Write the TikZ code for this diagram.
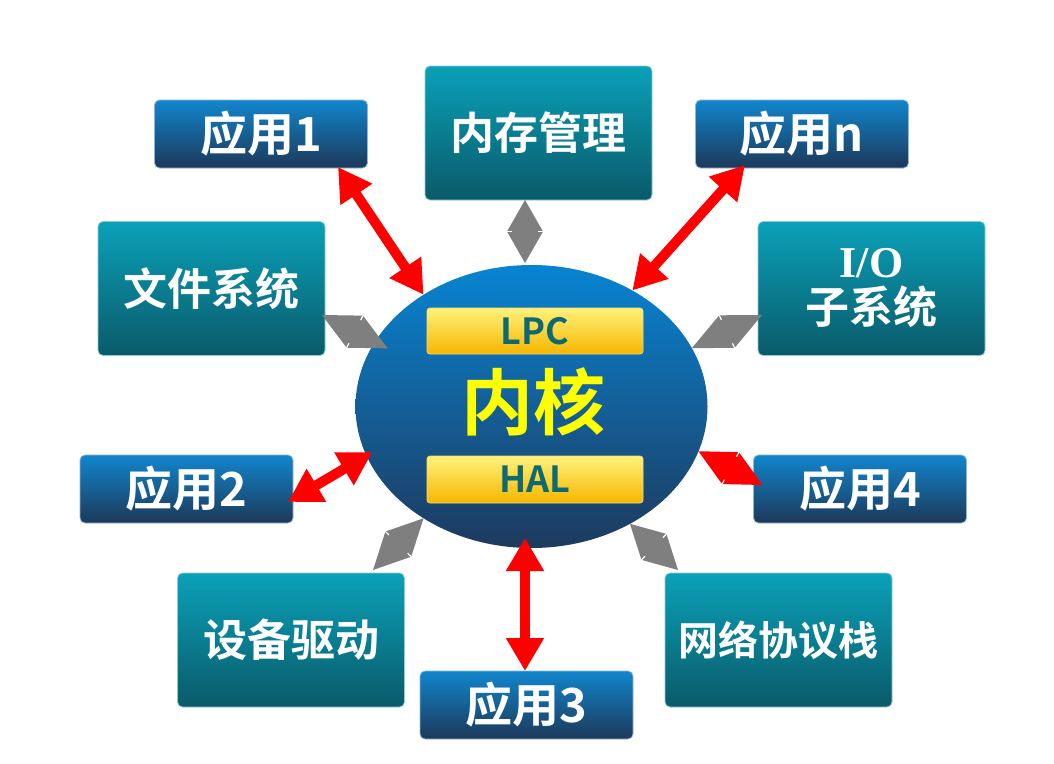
\documentclass[tikz,border=0pt]{standalone}
\usepackage{fontspec}
\usetikzlibrary{arrows.meta,calc,shapes.geometric}
\newfontfamily\cjk{Noto Sans CJK SC}[BoldFont={Noto Sans CJK SC Bold}]
\newfontfamily\serifb{Liberation Serif}

\definecolor{tealtop}{HTML}{0AA1B9}
\definecolor{tealmid}{HTML}{0A7C8F}
\definecolor{tealbot}{HTML}{0A5A69}
\definecolor{tealedge}{HTML}{8FCBD3}
\definecolor{bluetop}{HTML}{1186CD}
\definecolor{bluemid}{HTML}{1F4A78}
\definecolor{bluebot}{HTML}{1C3859}
\definecolor{blueedge}{HTML}{8FB6D6}
\definecolor{coretop}{HTML}{0884D2}
\definecolor{coremid}{HTML}{1A5E9C}
\definecolor{corebot}{HTML}{1E3A5E}
\definecolor{goldtop}{HTML}{FFF27A}
\definecolor{goldmid}{HTML}{FCC512}
\definecolor{goldbot}{HTML}{F6B600}
\definecolor{goldedge}{HTML}{F8DC6A}
\definecolor{bartext}{HTML}{0E6A72}
\definecolor{coretext}{HTML}{FFFF00}
\definecolor{arrowred}{HTML}{FF0000}
\definecolor{arrowgray}{HTML}{7F7F7F}

% filled double head: two triangles base to base between #2 and #3, half width #4
\newcommand\dhead[4][arrowgray]{%
  \fill[#1] (#2) -- ($(#2)!0.5!(#3)!#4!90:(#3)$) -- (#3)
            -- ($(#2)!0.5!(#3)!#4!-90:(#3)$) -- cycle;
  \draw[white, line width=1.2pt]
    ($(#2)!0.5!(#3)!#4!90:(#3)$) -- ($(#2)!0.5!(#3)!0.72*#4!90:(#3)$)
    ($(#2)!0.5!(#3)!#4!-90:(#3)$) -- ($(#2)!0.5!(#3)!0.72*#4!-90:(#3)$);
}

\tikzset{
  tealbox/.style={rectangle, rounded corners=5pt, minimum width=227pt,
    minimum height=134pt, inner sep=0pt, outer sep=0pt,
    top color=tealtop, middle color=tealmid, bottom color=tealbot,
    draw=tealedge, line width=0.8pt, text=white, align=center,
    font=\cjk\bfseries\fontsize{44}{50}\selectfont},
  appbox/.style={rectangle, rounded corners=5pt, minimum width=213pt,
    minimum height=68pt, inner sep=0pt, outer sep=0pt,
    top color=bluetop, middle color=bluemid, bottom color=bluebot,
    draw=blueedge, line width=0.8pt, text=white,
    font=\cjk\bfseries\fontsize{47}{50}\selectfont},
  goldbar/.style={rectangle, rounded corners=3pt, minimum width=216pt,
    minimum height=46pt, inner sep=0pt, outer sep=0pt,
    top color=goldtop, middle color=goldmid, bottom color=goldbot,
    draw=goldedge, line width=0.8pt, text=bartext,
    font=\cjk\bfseries\fontsize{36}{40}\selectfont},
  redarrow/.style={draw=arrowred, line width=10pt,
    {Triangle[length=33pt,width=36pt]}-{Triangle[length=33pt,width=36pt]}},
}

\begin{document}
\begin{tikzpicture}[x=1pt,y=-1pt]
  \useasboundingbox[fill=white] (0,0) rectangle (1054,763);

  % kernel
  \node[ellipse, minimum width=352pt, minimum height=283pt, inner sep=0pt,
        outer sep=0pt, top color=coretop, middle color=coremid,
        bottom color=corebot] (kernel) at (531.5,406.5) {};
  \node[goldbar] (lpc) at (535,331) {LPC};
  \node[goldbar, minimum height=47pt] (hal) at (535,479.5) {HAL};
  \node[text=coretext, font=\cjk\bfseries\fontsize{72}{80}\selectfont]
        (core) at (533,402) {内核};

  % subsystems
  \node[tealbox] (mem)  at (538.5,133)  {内存管理};
  \node[tealbox] (file) at (211.5,288.5) {文件系统};
  \node[tealbox] (io)   at (871.5,288.5)
        {{\serifb\bfseries I/O}\\[-4pt]子系统};
  \node[tealbox] (dev)  at (291,640)    {设备驱动};
  \node[tealbox, font=\cjk\bfseries\fontsize{40}{46}\selectfont]
        (net)  at (778.5,640)  {网络协议栈};

  % applications
  \node[appbox] (app1) at (261,134)   {应用1};
  \node[appbox] (appn) at (802,134)   {应用n};
  \node[appbox] (app2) at (186.5,489) {应用2};
  \node[appbox] (app4) at (860,489)   {应用4};
  \node[appbox] (app3) at (526.5,705) {应用3};

  % red links between applications and the kernel
  \draw[redarrow] ([xshift=77pt,yshift=1pt]app1.south) -- (kernel.134);
  \draw[redarrow] ([xshift=-57pt,yshift=3pt]appn.south) -- (kernel.49);
  \draw[redarrow] ([xshift=-5pt,yshift=-13pt]app2.east)
                  -- ($(kernel.center)!0.96!(kernel.196)$);
  \draw[redarrow] ($(kernel.south -| app3.north)+(-1.5,-10)$)
                  -- ([xshift=-1.5pt]app3.north);
  \coordinate (k4) at (kernel.345);
  \coordinate (a4) at ([xshift=9pt,yshift=4pt]app4.west);
  \dhead[arrowred]{k4}{a4}{18pt}

  % gray links between subsystems and the kernel
  \coordinate (m1) at ([xshift=-13.5pt]mem.south);
  \coordinate (m2) at ([xshift=-6.5pt,yshift=2pt]kernel.north);
  \dhead{m1}{m2}{18pt}
  \coordinate (f1) at ([xshift=-3pt,yshift=-26.5pt]file.east);
  \coordinate (f2) at ($(kernel.center)!0.915!(kernel.158)$);
  \dhead{f1}{f2}{18pt}
  \coordinate (i1) at ([xshift=4pt,yshift=-26.5pt]io.west);
  \coordinate (i2) at (kernel.20);
  \dhead{i1}{i2}{18pt}
  \coordinate (d1) at ([xshift=82pt,yshift=3pt]dev.north);
  \coordinate (d2) at (kernel.226);
  \dhead{d1}{d2}{18pt}
  \coordinate (n1) at ([xshift=-100.5pt,yshift=3pt]net.north);
  \coordinate (n2) at (kernel.310);
  \dhead{n2}{n1}{18pt}
\end{tikzpicture}
\end{document}
